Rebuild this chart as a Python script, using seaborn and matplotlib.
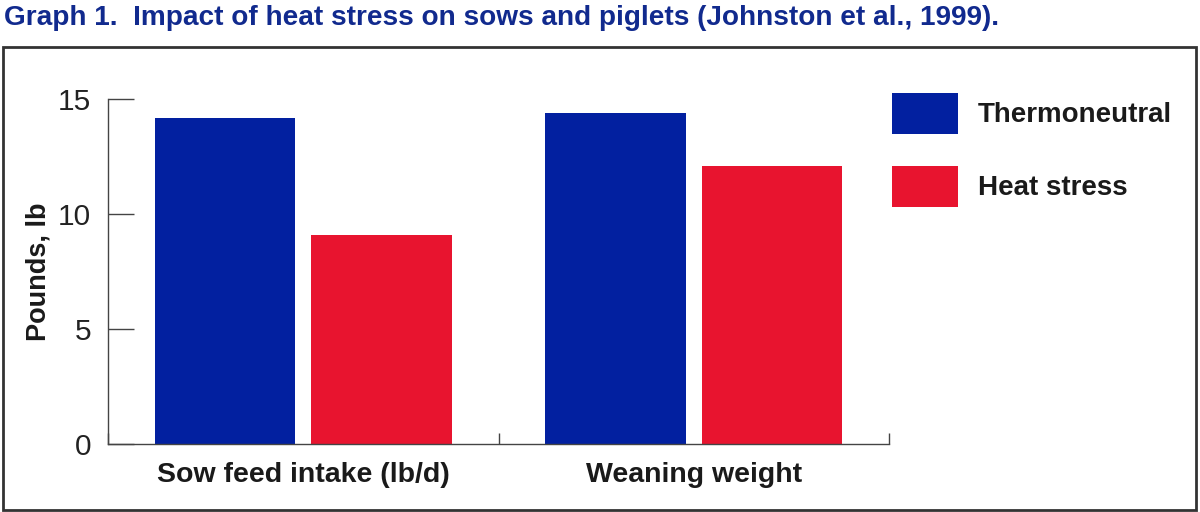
import pandas as pd
import seaborn as sns
import matplotlib.pyplot as plt
from matplotlib.patches import Rectangle

# values
groups = ["Sow feed intake (lb/d)", "Weaning weight"]
conditions = ["Thermoneutral", "Heat stress"]
thermoneutral = [14.2, 14.4]
heat_stress = [9.1, 12.1]
y_ticks = [0, 5, 10, 15]

df = pd.DataFrame({
    "group": groups * 2,
    "condition": [conditions[0]] * 2 + [conditions[1]] * 2,
    "pounds": thermoneutral + heat_stress,
})

sns.set_style("white")
plt.rcParams["font.family"] = ["Liberation Sans", "DejaVu Sans"]

fig = plt.figure(figsize=(12, 5.12), dpi=100)
ax = fig.add_axes([108 / 1200, 68 / 512, 781 / 1200, 344.7 / 512])

palette = {"Thermoneutral": "#0220a0", "Heat stress": "#e8142f"}
sns.barplot(data=df, x="group", y="pounds", hue="condition", order=groups,
            hue_order=conditions, palette=palette, width=0.8, gap=0.1,
            saturation=1, ax=ax, linewidth=0)

ax.set_xlim(-0.5, 1.5)
ax.set_ylim(0, 15)
ax.set_yticks(y_ticks)
ax.set_yticklabels([str(t) for t in y_ticks], fontsize=21.5, color="#222222")
ax.tick_params(axis="y", direction="in", length=19, width=1, color="#444444", pad=12, left=True)

ax.set_xticks(range(len(groups)))
ax.set_xticklabels(groups, fontsize=20.5, fontweight="bold", color="#1a1a1a")
ax.set_xticks([-0.5, 0.5, 1.5], minor=True)
ax.tick_params(axis="x", which="major", length=0, pad=13)
ax.tick_params(axis="x", which="minor", direction="in", length=8, width=1, color="#444444", bottom=True)

ax.set_xlabel("")
ax.set_ylabel("Pounds, lb", fontsize=19.5, fontweight="bold", color="#1a1a1a", labelpad=5)

sns.despine(ax=ax)
for side in ["left", "bottom"]:
    ax.spines[side].set_color("#444444")
    ax.spines[side].set_linewidth(1)

handles, labels = ax.get_legend_handles_labels()
ax.legend(handles, labels, loc="upper left", bbox_to_anchor=(892 / 1200, 1 - 93 / 512),
          bbox_transform=fig.transFigure, frameon=False,
          prop={"weight": "bold", "size": 20}, handlelength=2.37, handleheight=1.89,
          handletextpad=0.72, labelspacing=1.14, borderpad=0, borderaxespad=0)
for t in ax.get_legend().get_texts():
    t.set_color("#1a1a1a")

fig.text(4 / 1200, 1 - 18 / 512, "Graph 1.  Impact of heat stress on sows and piglets (Johnston et al., 1999).",
         ha="left", va="center", fontsize=20.2, fontweight="bold", color="#112a8e")

fig.patches.append(Rectangle((3 / 1200, 2 / 512), 1193 / 1200, 463 / 512, transform=fig.transFigure,
                             fill=False, edgecolor="#333333", linewidth=2))

plt.savefig("out.png", dpi=100)
